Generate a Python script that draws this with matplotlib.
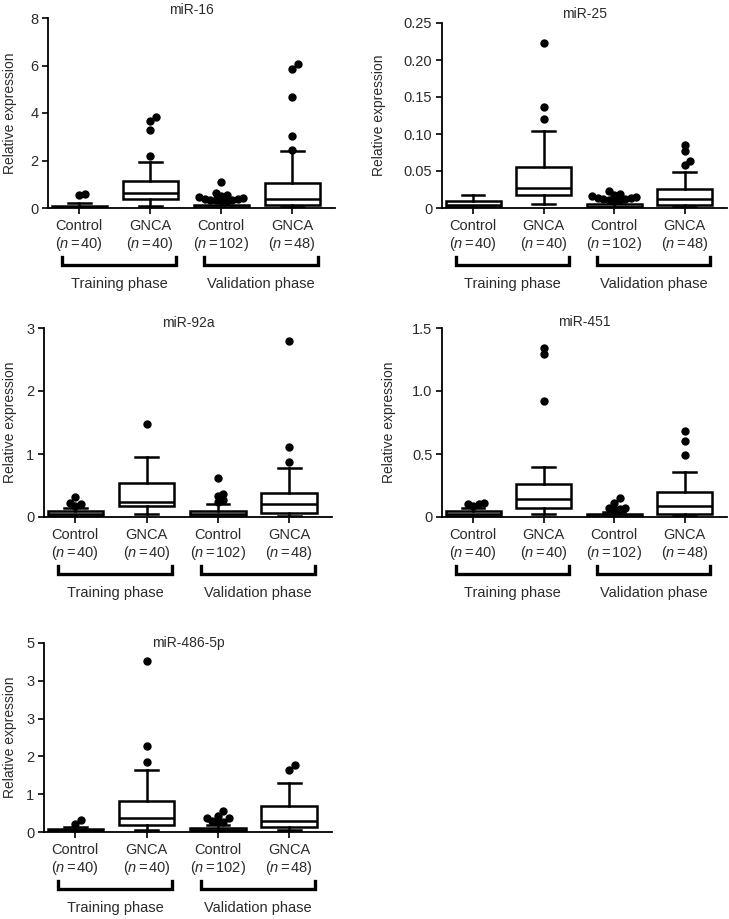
import matplotlib
matplotlib.use("Agg")
import matplotlib.pyplot as plt
import numpy as np
from matplotlib.transforms import blended_transform_factory

plt.rcParams['font.family'] = ['Liberation Sans', 'DejaVu Sans']
plt.rcParams['mathtext.fontset'] = 'custom'
plt.rcParams['mathtext.it'] = 'Liberation Sans:italic'
plt.rcParams['mathtext.rm'] = 'Liberation Sans'

# ---------------- data ----------------
groups = ["Control", "GNCA", "Control", "GNCA"]
group_n = [40, 40, 102, 48]
phases = ["Training phase", "Validation phase"]
phase_members = [[0, 1], [2, 3]]

titles = ["miR-16", "miR-25", "miR-92a", "miR-451", "miR-486-5p"]

# per panel, per group: q1, median, q3, whisker low, whisker high
mir16_q1 = [0.02, 0.38, 0.02, 0.12]
mir16_med = [0.05, 0.62, 0.05, 0.38]
mir16_q3 = [0.10, 1.12, 0.12, 1.05]
mir16_lo = [0.0, 0.07, 0.0, 0.05]
mir16_hi = [0.22, 1.92, 0.25, 2.40]
mir16_fliers = [[0.55, 0.60],
                [2.18, 3.28, 3.65, 3.85],
                [0.28, 0.30, 0.32, 0.33, 0.35, 0.37, 0.40, 0.42, 0.45, 0.52, 0.56, 0.64, 1.10],
                [2.45, 3.02, 4.68, 5.85, 6.05]]

mir25_q1 = [0.001, 0.017, 0.001, 0.004]
mir25_med = [0.004, 0.027, 0.002, 0.012]
mir25_q3 = [0.009, 0.056, 0.005, 0.026]
mir25_lo = [0.0, 0.006, 0.0, 0.001]
mir25_hi = [0.017, 0.104, 0.009, 0.048]
mir25_fliers = [[],
                [0.120, 0.136, 0.223],
                [0.010, 0.011, 0.011, 0.012, 0.012, 0.013, 0.014, 0.015, 0.016, 0.018, 0.019, 0.023],
                [0.058, 0.064, 0.077, 0.085]]

mir92a_q1 = [0.01, 0.18, 0.01, 0.07]
mir92a_med = [0.05, 0.24, 0.04, 0.21]
mir92a_q3 = [0.09, 0.54, 0.10, 0.38]
mir92a_lo = [0.0, 0.05, 0.0, 0.02]
mir92a_hi = [0.14, 0.96, 0.21, 0.78]
mir92a_fliers = [[0.18, 0.20, 0.23, 0.32],
                 [1.48],
                 [0.24, 0.27, 0.33, 0.36, 0.62],
                 [0.87, 1.11, 2.79]]

mir451_q1 = [0.005, 0.07, 0.003, 0.025]
mir451_med = [0.02, 0.14, 0.01, 0.085]
mir451_q3 = [0.045, 0.26, 0.025, 0.20]
mir451_lo = [0.0, 0.02, 0.0, 0.01]
mir451_hi = [0.07, 0.40, 0.04, 0.36]
mir451_fliers = [[0.09, 0.10, 0.10, 0.11],
                 [0.92, 1.29, 1.34],
                 [0.06, 0.065, 0.07, 0.07, 0.11, 0.15],
                 [0.49, 0.60, 0.68]]

mir486_q1 = [0.01, 0.18, 0.01, 0.14]
mir486_med = [0.04, 0.37, 0.04, 0.30]
mir486_q3 = [0.08, 0.83, 0.10, 0.70]
mir486_lo = [0.0, 0.05, 0.0, 0.04]
mir486_hi = [0.14, 1.64, 0.18, 1.29]
mir486_fliers = [[0.20, 0.33],
                 [1.84, 2.28, 4.53],
                 [0.26, 0.27, 0.30, 0.36, 0.37, 0.43, 0.55],
                 [1.64, 1.76]]

# y ticks and labels (as printed in the original figure)
mir16_yticks = [0, 2, 4, 6, 8]
mir16_ylabels = ["0", "2", "4", "6", "8"]
mir25_yticks = [0, 0.05, 0.10, 0.15, 0.20, 0.25]
mir25_ylabels = ["0", "0.05", "0.10", "0.15", "0.20", "0.25"]
mir92a_yticks = [0, 1, 2, 3]
mir92a_ylabels = ["0", "1", "2", "3"]
mir451_yticks = [0, 0.5, 1.0, 1.5]
mir451_ylabels = ["0", "0.5", "1.0", "1.5"]
mir486_yticks = [0, 1, 2, 3, 4, 5]
mir486_ylabels = ["0", "1", "2", "3", "3", "5"]

panels = [
    (mir16_q1, mir16_med, mir16_q3, mir16_lo, mir16_hi, mir16_fliers, mir16_yticks, mir16_ylabels),
    (mir25_q1, mir25_med, mir25_q3, mir25_lo, mir25_hi, mir25_fliers, mir25_yticks, mir25_ylabels),
    (mir92a_q1, mir92a_med, mir92a_q3, mir92a_lo, mir92a_hi, mir92a_fliers, mir92a_yticks, mir92a_ylabels),
    (mir451_q1, mir451_med, mir451_q3, mir451_lo, mir451_hi, mir451_fliers, mir451_yticks, mir451_ylabels),
    (mir486_q1, mir486_med, mir486_q3, mir486_lo, mir486_hi, mir486_fliers, mir486_yticks, mir486_ylabels),
]

# ---------------- layout ----------------
W, H = 729, 919
fig = plt.figure(figsize=(W / 100, H / 100), dpi=100)

# axes rectangles in pixels: left, right, top, bottom
rects_px = [(48, 335, 18, 208), (442, 727, 23, 208),
            (44, 332, 328, 517), (442, 727, 328, 517),
            (44, 332, 643, 832)]
ylabel_x = [-0.108, -0.196, -0.094, -0.161, -0.094]
title_y = [1.04, 1.05, 1.027, 1.03, 1.0]

text_color = "#2b2b2b"
xlim = (-0.44, 3.6)
box_w = 0.78
cap_w = 0.32
lw = 1.8
dot_diam_px = 6.5
swarm_gap = 0.85


def swarm_offsets(vals, ax_h_px, yrange, x_px_per_unit, diam):
    """Simple beeswarm: nudge colliding dots sideways (partial overlap allowed)."""
    d = diam * swarm_gap
    placed = []
    offs = np.zeros(len(vals))
    order = np.argsort(vals)
    for i in order:
        ypx = vals[i] / yrange * ax_h_px
        k = 0
        while True:
            cands = [0.0] if k == 0 else [k * d, -k * d]
            ok_c = None
            for c in cands:
                if all((c - px) ** 2 + (ypx - py) ** 2 >= d ** 2 for px, py in placed):
                    ok_c = c
                    break
            if ok_c is not None:
                placed.append((ok_c, ypx))
                offs[i] = ok_c / x_px_per_unit
                break
            k += 1
    return offs


for p, (q1, med, q3, lo, hi, fl, yt, yl) in enumerate(panels):
    l, r, t, b = rects_px[p]
    ax = fig.add_axes([l / W, 1 - b / H, (r - l) / W, (b - t) / H])
    positions = np.arange(len(groups))
    stats = []
    for i in range(len(groups)):
        stats.append(dict(med=med[i], q1=q1[i], q3=q3[i], whislo=lo[i], whishi=hi[i], fliers=[]))
    ax.bxp(stats, positions=positions, widths=box_w, capwidths=cap_w, showfliers=False,
           patch_artist=True,
           boxprops=dict(facecolor="white", edgecolor="black", linewidth=lw),
           medianprops=dict(color="black", linewidth=lw),
           whiskerprops=dict(color="black", linewidth=lw),
           capprops=dict(color="black", linewidth=lw))
    ymax = yt[-1]
    ax.set_ylim(0, ymax)
    ax.set_xlim(*xlim)
    x_px_per_unit = (r - l) / (xlim[1] - xlim[0])
    for i in range(len(groups)):
        vals = np.array(fl[i], dtype=float)
        if len(vals) == 0:
            continue
        offs = swarm_offsets(vals, b - t, ymax, x_px_per_unit, dot_diam_px)
        ax.plot(positions[i] + offs, vals, 'o', color="black", markersize=5.0,
                clip_on=False, zorder=5)

    ax.spines['top'].set_visible(False)
    ax.spines['right'].set_visible(False)
    ax.spines['left'].set_linewidth(1.3)
    ax.spines['bottom'].set_linewidth(1.3)
    ax.set_yticks(yt)
    ax.set_yticklabels(yl)
    ax.tick_params(axis='y', length=4, width=1.2, labelsize=10.5, labelcolor=text_color, pad=3)
    ax.set_xticks(positions)
    ax.set_xticklabels([f"{g}\n($\\mathit{{n}}$$\\,$=$\\,${n})" for g, n in zip(groups, group_n)])
    ax.tick_params(axis='x', length=4, width=1.2, labelsize=10.5, labelcolor=text_color, pad=4)
    for lab in ax.get_xticklabels():
        lab.set_linespacing(1.12)
    ax.set_ylabel("Relative expression", fontsize=10, color=text_color)
    ax.yaxis.set_label_coords(ylabel_x[p], 0.5)
    ax.text(0.5, title_y[p], titles[p], transform=ax.transAxes, ha='center', va='center',
            fontsize=10, color=text_color)

    trans = blended_transform_factory(ax.transData, ax.transAxes)
    ah = b - t
    y_line = -57 / ah
    y_tip = -49 / ah
    y_txt = -76 / ah
    for ph, mem in zip(phases, phase_members):
        x0 = positions[mem[0]] - 0.24
        x1 = positions[mem[-1]] + 0.36
        ax.plot([x0, x0, x1, x1], [y_tip, y_line, y_line, y_tip], color="black",
                linewidth=2.4, transform=trans, clip_on=False, solid_joinstyle='miter')
        ax.text((x0 + x1) / 2, y_txt, ph, transform=trans, ha='center', va='center',
                fontsize=10.5, color=text_color)

fig.savefig("out.png", dpi=100)
